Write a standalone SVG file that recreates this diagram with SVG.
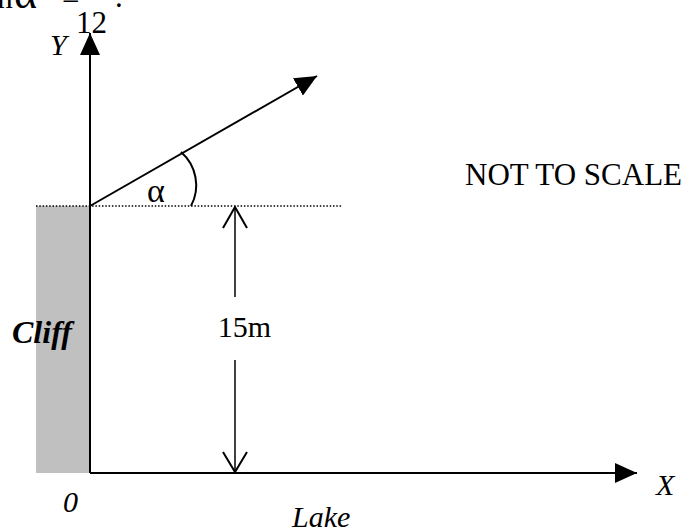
<svg xmlns="http://www.w3.org/2000/svg" width="693" height="530" viewBox="0 0 693 530">
<defs>
<style>
.t{font-family:"Liberation Serif","Times New Roman",serif;fill:#000}
.i{font-style:italic}
.ln{stroke:#000;fill:none}
</style>
<marker id="ah" markerUnits="userSpaceOnUse" markerWidth="22" markerHeight="20" viewBox="0 0 22 20" refX="22" refY="10" orient="auto">
<path d="M0,0 L22,10 L0,20 z" fill="#000"/>
</marker>
</defs>
<rect width="693" height="530" fill="#fff"/>
<g id="equation">
<text class="t" x="-25" y="8" font-size="31">tan</text>
<text class="t" x="14" y="8" font-size="44">α</text>
<text class="t" x="62" y="9" font-size="31">=</text>
<text class="t" x="76" y="33" font-size="31">12</text>
<text class="t" x="115" y="7" font-size="31">.</text>
</g>
<g id="cliff">
<rect x="36" y="206" width="54" height="267" fill="#c0c0c0"/>
<text class="t i" x="12" y="343" font-size="32" font-weight="bold">Cliff</text>
</g>
<g id="connectors">
<line class="ln" x1="36" y1="206" x2="342" y2="206" stroke-width="1.5" stroke-dasharray="1.5 1.8"/>
<line class="ln" x1="90" y1="473" x2="90" y2="33" stroke-width="2" marker-end="url(#ah)"/>
<line class="ln" x1="90" y1="473" x2="637" y2="473" stroke-width="2" marker-end="url(#ah)"/>
<line class="ln" x1="90" y1="206" x2="317" y2="76" stroke-width="2" marker-end="url(#ah)"/>
<path class="ln" d="M181,152 A44 44 0 0 1 191,206" stroke-width="2"/>
<line class="ln" x1="235" y1="207" x2="235" y2="297" stroke-width="1.5"/>
<line class="ln" x1="235" y1="360" x2="235" y2="472" stroke-width="1.5"/>
<path class="ln" d="M223,228 L235,207 L247,228" stroke-width="2"/>
<path class="ln" d="M223,452 L235,472 L247,452" stroke-width="2"/>
</g>
<g id="labels">
<text class="t i" x="50" y="55" font-size="30">Y</text>
<text class="t i" x="656" y="495" font-size="30">X</text>
<text class="t i" x="63" y="512" font-size="30">0</text>
<text class="t i" x="292" y="527" font-size="30">Lake</text>
<text class="t" x="147" y="202" font-size="34">α</text>
<text class="t" x="244.5" y="337" font-size="30" text-anchor="middle">15m</text>
<text class="t" x="465" y="185" font-size="31">NOT TO SCALE</text>
</g>
</svg>
